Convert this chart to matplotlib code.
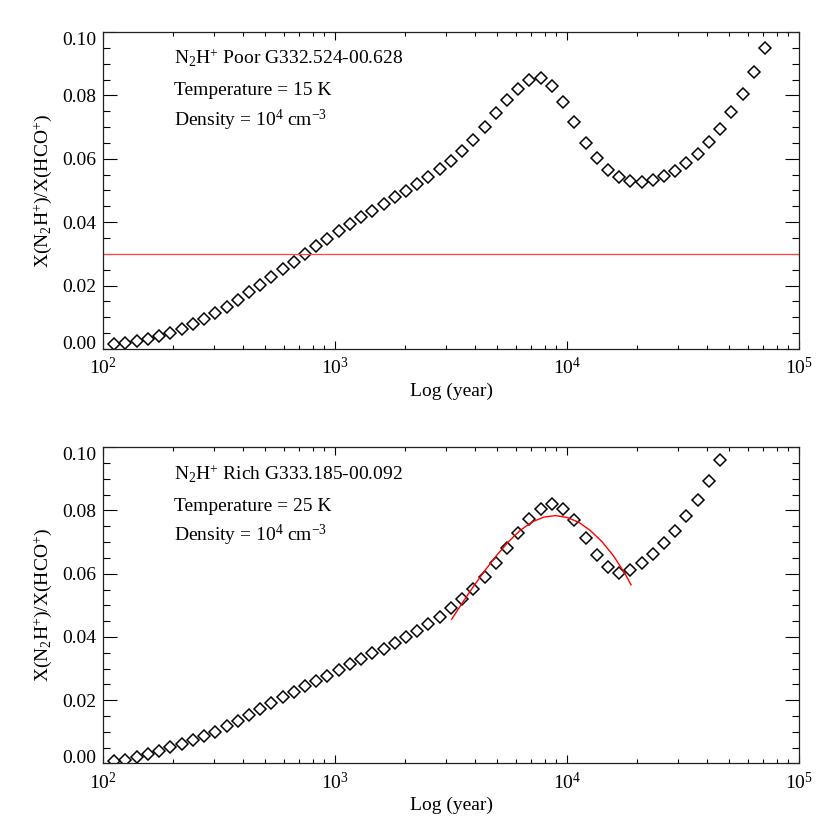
import matplotlib
matplotlib.use("Agg")
import matplotlib.pyplot as plt
from matplotlib.ticker import LogLocator, MultipleLocator, FormatStrFormatter, NullFormatter

plt.rcParams['font.family'] = ['Liberation Serif', 'DejaVu Serif']
plt.rcParams['mathtext.fontset'] = 'custom'
plt.rcParams['mathtext.rm'] = 'Liberation Serif'
plt.rcParams['mathtext.it'] = 'Liberation Serif:italic'
plt.rcParams['mathtext.bf'] = 'Liberation Serif:bold'

# ---------------- data ----------------
years_poor = [112, 125, 140, 156, 175, 195, 218, 244, 273, 305,
              341, 381, 426, 476, 532, 595, 665, 743, 830, 928,
              1037, 1160, 1296, 1449, 1620, 1810, 2024, 2262, 2528, 2826,
              3159, 3531, 3947, 4412, 4932, 5512, 6162, 6887, 7698, 8605,
              9618, 10751, 12017, 13433, 15015, 16784, 18761, 20970, 23442, 26201,
              29287, 32737, 36591, 40902, 45719, 51103, 57124, 63851, 71375]
ratio_poor = [0.0016, 0.0020, 0.0024, 0.0033, 0.0042, 0.0051, 0.0064, 0.0078, 0.0096, 0.0113,
              0.0134, 0.0155, 0.0179, 0.0201, 0.0226, 0.0251, 0.0274, 0.0301, 0.0324, 0.0348,
              0.0372, 0.0394, 0.0415, 0.0436, 0.0457, 0.0479, 0.0498, 0.0520, 0.0542, 0.0567,
              0.0594, 0.0625, 0.0659, 0.0699, 0.0744, 0.0785, 0.0821, 0.0849, 0.0854, 0.0830,
              0.0780, 0.0715, 0.0651, 0.0603, 0.0565, 0.0544, 0.0530, 0.0526, 0.0532, 0.0546,
              0.0562, 0.0586, 0.0615, 0.0652, 0.0695, 0.0747, 0.0805, 0.0873, 0.0950]
observed_poor = 0.030

years_rich = [112, 125, 140, 156, 175, 195, 218, 244, 273, 305,
              341, 381, 426, 476, 532, 595, 665, 743, 830, 928,
              1037, 1160, 1296, 1449, 1620, 1810, 2024, 2262, 2528, 2826,
              3159, 3531, 3947, 4412, 4932, 5512, 6162, 6887, 7698, 8605,
              9618, 10751, 12017, 13433, 15015, 16784, 18761, 20970, 23442, 26201,
              29287, 32737, 36591, 40902, 45719]
ratio_rich = [0.0008, 0.0011, 0.0019, 0.0029, 0.0039, 0.0051, 0.0061, 0.0073, 0.0086, 0.0100,
              0.0118, 0.0135, 0.0153, 0.0171, 0.0190, 0.0209, 0.0225, 0.0244, 0.0260, 0.0277,
              0.0296, 0.0314, 0.0330, 0.0348, 0.0363, 0.0382, 0.0400, 0.0419, 0.0441, 0.0464,
              0.0491, 0.0520, 0.0553, 0.0591, 0.0633, 0.0680, 0.0728, 0.0774, 0.0806, 0.0821,
              0.0806, 0.0770, 0.0713, 0.0658, 0.0620, 0.0601, 0.0613, 0.0633, 0.0661, 0.0696,
              0.0736, 0.0782, 0.0833, 0.0893, 0.0961]

fit_years = [3184, 3548, 3981, 4467, 5012, 5623, 6310, 7079, 7943, 8913,
             10000, 11220, 12589, 14125, 15849, 17783, 18880]
fit_ratio = [0.0456, 0.0509, 0.0563, 0.0614, 0.0661, 0.0703, 0.0738, 0.0764, 0.0779, 0.0784,
             0.0778, 0.0763, 0.0737, 0.0702, 0.0657, 0.0600, 0.0565]

panel_text = [
    ["N$_2$H$^{+}$ Poor G332.524-00.628", "Temperature = 15 K", "Density = 10$^{4}$ cm$^{-3}$"],
    ["N$_2$H$^{+}$ Rich G333.185-00.092", "Temperature = 25 K", "Density = 10$^{4}$ cm$^{-3}$"],
]
ytick_vals = [0.00, 0.02, 0.04, 0.06, 0.08, 0.10]
xlabel = "Log (year)"
ylabel = "X(N$_2$H$^{+}$)/X(HCO$^{+}$)"

# ---------------- figure ----------------
W = H = 830
fig = plt.figure(figsize=(W / 100, H / 100), dpi=100)
ax1 = fig.add_axes([103 / W, 1 - 349 / H, 696 / W, 317 / H])
ax2 = fig.add_axes([103 / W, 1 - 763.3 / H, 696 / W, 316 / H])

FS = 14

def style(ax):
    ax.set_xscale('log')
    ax.set_xlim(1e2, 1e5)
    ax.set_ylim(0, 0.10)
    ax.xaxis.set_major_locator(LogLocator(base=10, numticks=10))
    ax.xaxis.set_minor_locator(LogLocator(base=10, subs=range(2, 10), numticks=20))
    ax.xaxis.set_minor_formatter(NullFormatter())
    ax.set_yticks(ytick_vals)
    ax.yaxis.set_minor_locator(MultipleLocator(0.005))
    ax.yaxis.set_major_formatter(FormatStrFormatter('%.2f'))
    ax.tick_params(axis='both', which='both', direction='in', top=True, right=True,
                   width=0.8, colors='black', labelsize=FS)
    ax.tick_params(axis='x', which='major', length=5.5, pad=6)
    ax.tick_params(axis='x', which='minor', length=3)
    ax.tick_params(axis='y', which='major', length=10, pad=5)
    ax.tick_params(axis='y', which='minor', length=5)
    for s in ax.spines.values():
        s.set_linewidth(0.9)
        s.set_color('#222222')
    ax.set_xlabel(xlabel, fontsize=FS, labelpad=3)
    ax.set_ylabel(ylabel, fontsize=FS, labelpad=6)
    fig.canvas.draw()
    labs = ax.yaxis.get_major_ticks()
    labs[0].label1.set_va('baseline')
    labs[-1].label1.set_va('top')

for ax, yrs, vals, txt in [(ax1, years_poor, ratio_poor, panel_text[0]),
                           (ax2, years_rich, ratio_rich, panel_text[1])]:
    ax.plot(yrs, vals, linestyle='none', marker='D', markersize=6.3,
            markerfacecolor='none', markeredgecolor='black', markeredgewidth=1.1)
    for t, yf in zip(txt, [0.897, 0.800, 0.702]):
        ax.text(0.102, yf, t, transform=ax.transAxes, fontsize=FS,
                ha='left', va='baseline')

ax1.axhline(observed_poor, color='#ff4444', linewidth=0.9)
ax2.plot(fit_years, fit_ratio, color='red', linewidth=1.0)

style(ax1)
style(ax2)

fig.savefig('out.png', dpi=100, facecolor='white')
